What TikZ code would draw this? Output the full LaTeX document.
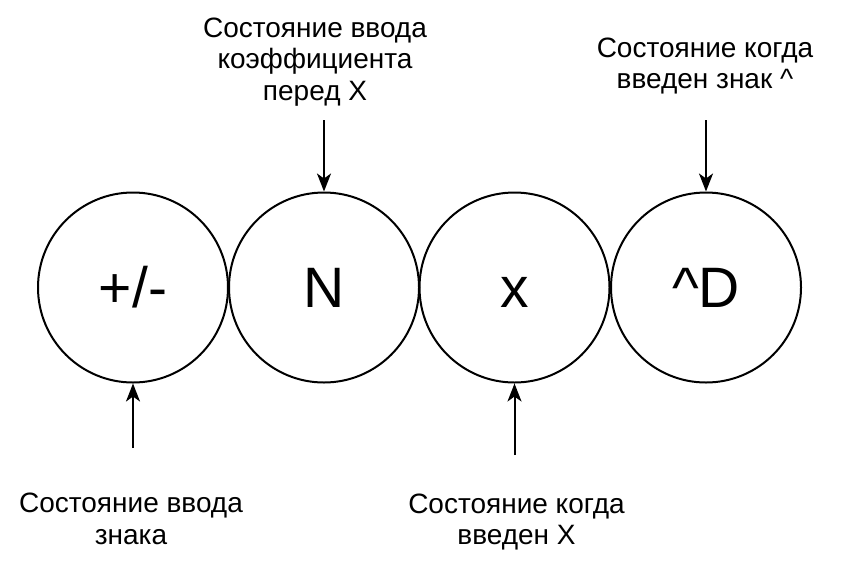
\documentclass[tikz,border=0pt]{standalone}
\usepackage{fontspec}
\setmainfont{Liberation Sans}
\usetikzlibrary{arrows.meta}
\begin{document}
\begin{tikzpicture}[x=1pt,y=-1pt,
  state/.style={draw=black,line width=2pt,circle,minimum size=190pt,inner sep=0pt,
    text height=40pt,text depth=0pt,font=\fontsize{57}{60}\selectfont},
  lbl/.style={align=center,inner sep=0pt,font=\fontsize{28}{31.5}\selectfont},
  arr/.style={line width=2pt,-{Stealth[length=18pt,width=14pt,inset=5pt]}}]
\useasboundingbox (0,0) rectangle (842,579);
\node[state] (s1) at (133,287.5) {+/-};
\node[state] (s2) at (324,287.5) {N};
\node[state] (s3) at (514.5,287.5) {x};
\node[state] (s4) at (706,287.5) {\^{}D};
\node[lbl] (t1) at (315,62) {Состояние ввода\\коэффициента\\перед X};
\node[lbl] (t2) at (705,66) {Состояние когда\\введен знак \^{}};
\node[lbl] (b1) at (131,519) {Состояние ввода\\знака};
\node[lbl] (b2) at (516.5,522) {Состояние когда\\введен X};
\coordinate (c1) at (324,120);
\coordinate (c2) at (706,120);
\coordinate (c3) at (133,448);
\coordinate (c4) at (514.5,455);
\draw[arr] (c1) -- (s2.north);
\draw[arr] (c2) -- (s4.north);
\draw[arr] (c3) -- (s1.south);
\draw[arr] (c4) -- (s3.south);
\end{tikzpicture}
\end{document}
